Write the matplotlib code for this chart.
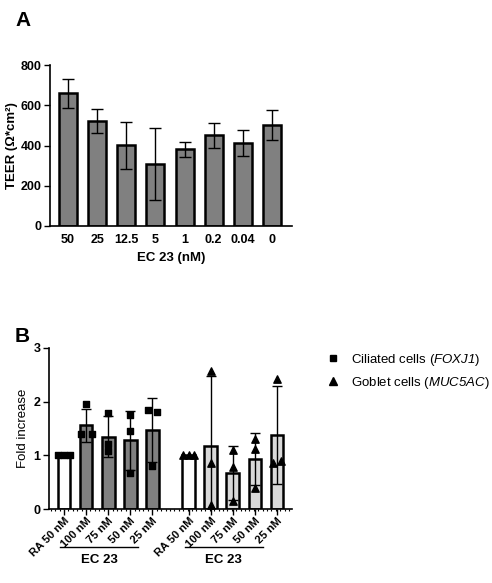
import numpy as np
import matplotlib
matplotlib.use("Agg")
import matplotlib.pyplot as plt
from matplotlib.ticker import MultipleLocator
from matplotlib.lines import Line2D

plt.rcParams['font.family'] = ['Liberation Sans', 'DejaVu Sans']
plt.rcParams['mathtext.fontset'] = 'custom'
plt.rcParams['mathtext.rm'] = 'Liberation Sans'
plt.rcParams['mathtext.sf'] = 'Liberation Sans:italic'  # italic incl. digits
plt.rcParams['mathtext.bf'] = 'Liberation Sans:bold'

# Panel A data
teer_labels = ['50', '25', '12.5', '5', '1', '0.2', '0.04', '0']
teer_mean = [660, 522, 402, 307, 382, 450, 412, 502]
teer_err = [72, 60, 117, 180, 37, 60, 65, 75]

# Panel B data
b_labels = ['RA 50 nM', '100 nM', '75 nM', '50 nM', '25 nM']
cil_mean = [1.0, 1.56, 1.35, 1.28, 1.47]
cil_err = [0.0, 0.31, 0.38, 0.55, 0.60]
cil_pts = [[1.0, 1.0, 1.0], [1.95, 1.40, 1.40], [1.78, 1.22, 1.08],
           [1.75, 1.45, 0.68], [1.84, 1.80, 0.80]]
gob_mean = [1.0, 1.18, 0.67, 0.93, 1.38]
gob_err = [0.0, 1.30, 0.50, 0.48, 0.92]
gob_pts = [[1.0, 1.0, 1.0], [2.58, 0.85, 0.07], [1.10, 0.78, 0.15],
           [1.30, 1.12, 0.40], [2.42, 0.85, 0.90]]

# horizontal spread of overlapping points
cil_off = [[-0.25, 0, 0.25], [0, -0.25, 0.25], [0, 0, 0], [0, 0, 0], [-0.2, 0.2, 0]]
gob_off = [[-0.25, 0, 0.25], [0, 0, 0], [0, 0, 0], [0, 0, 0], [0, -0.2, 0.2]]

TICK_FS = 9
LAB_FS = 9.5

fig = plt.figure(figsize=(4.92, 5.83), dpi=100)

# ---------- Panel A ----------
axA = fig.add_axes([50/492, 1-226/583, 242/492, 161/583])
xa = np.arange(len(teer_labels))
axA.bar(xa, teer_mean, width=0.62, color='#808080', edgecolor='black', linewidth=1.8, zorder=2)
axA.errorbar(xa, teer_mean, yerr=teer_err, fmt='none', ecolor='black',
             elinewidth=1.0, capsize=4.5, capthick=1.0, zorder=3)
axA.set_xlim(-0.62, 7.69)
axA.set_ylim(0, 800)
axA.set_yticks([0, 200, 400, 600, 800])
axA.set_xticks(xa)
axA.set_xticklabels(teer_labels)
axA.tick_params(axis='x', length=0, pad=6)
axA.tick_params(axis='y', length=4, width=1.0, pad=2)
axA.set_ylabel('TEER (Ω*cm²)', fontsize=LAB_FS, fontweight='bold', labelpad=2)
axA.set_xlabel('EC 23 (nM)', fontsize=LAB_FS, fontweight='bold', labelpad=4)
for lab in axA.get_xticklabels() + axA.get_yticklabels():
    lab.set_fontsize(TICK_FS)
    lab.set_fontweight('bold')
for s in ['top', 'right']:
    axA.spines[s].set_visible(False)
for s in ['left', 'bottom']:
    axA.spines[s].set_linewidth(1.2)
fig.text(15/492, 1-20/583, 'A', fontsize=15, fontweight='bold', va='center', ha='left')

# ---------- Panel B ----------
axB = fig.add_axes([49/492, 1-509/583, 243/492, 161/583])
x1 = np.arange(5)
x2 = x1 + 5.65
bw = 0.58
colsA = ['white'] + ['#808080'] * 4
colsB = ['white'] + ['#d9d9d9'] * 4
axB.bar(x1, cil_mean, width=bw, color=colsA, edgecolor='black', linewidth=1.8, zorder=2)
axB.bar(x2, gob_mean, width=bw, color=colsB, edgecolor='black', linewidth=1.8, zorder=2)
axB.errorbar(x1[1:], cil_mean[1:], yerr=cil_err[1:], fmt='none', ecolor='black',
             elinewidth=1.0, capsize=3.5, capthick=1.0, zorder=3)
axB.errorbar(x2[1:], gob_mean[1:], yerr=gob_err[1:], fmt='none', ecolor='black',
             elinewidth=1.0, capsize=3.5, capthick=1.0, zorder=3)
for i in range(5):
    axB.scatter(x1[i] + np.array(cil_off[i]), cil_pts[i], marker='s', s=24,
                color='black', zorder=4, clip_on=False)
    axB.scatter(x2[i] + np.array(gob_off[i]), gob_pts[i], marker='^', s=28,
                color='black', zorder=4, clip_on=False)
axB.set_xlim(-0.68, 10.33)
axB.set_ylim(0, 3)
axB.set_yticks([0, 1, 2, 3])
axB.set_xticks(np.concatenate([x1, x2]))
axB.set_xticklabels(b_labels + b_labels, rotation=45, ha='right', rotation_mode='anchor')
axB.xaxis.set_minor_locator(MultipleLocator(0.2))
axB.tick_params(axis='x', which='major', length=4, width=1.0, pad=1)
axB.tick_params(axis='x', which='minor', length=1.5, width=0.8)
axB.tick_params(axis='y', length=4, width=1.0, pad=2)
for lab in axB.get_yticklabels():
    lab.set_fontsize(TICK_FS)
    lab.set_fontweight('bold')
for lab in axB.get_xticklabels():
    lab.set_fontsize(8)
    lab.set_fontweight('bold')
axB.set_ylabel('Fold increase', fontsize=LAB_FS, labelpad=3)
for s in ['top', 'right']:
    axB.spines[s].set_visible(False)
for s in ['left', 'bottom']:
    axB.spines[s].set_linewidth(1.2)

trans = axB.get_xaxis_transform()
for xs in (x1, x2):
    axB.plot([xs[1] - 1.18, xs[4] - 0.65], [-0.236, -0.236], transform=trans,
             color='black', linewidth=1.0, clip_on=False)
    axB.text((xs[1] - 1.18 + xs[4] - 0.65) / 2, -0.315, 'EC 23', transform=trans,
             ha='center', va='center', fontsize=LAB_FS, fontweight='bold')
fig.text(15/492, 1-337/583, 'B', fontsize=15, fontweight='bold', va='center', ha='left')

handles = [Line2D([], [], marker='s', color='black', linestyle='none', markersize=5),
           Line2D([], [], marker='^', color='black', linestyle='none', markersize=5.5)]
fig.legend(handles, ['Ciliated cells ($\\mathsf{FOXJ1}$)', 'Goblet cells ($\\mathsf{MUC5AC}$)'],
           loc='upper left', bbox_to_anchor=(326/492, 1-352/583), frameon=False,
           fontsize=9.5, handletextpad=0.9, labelspacing=0.5, borderaxespad=0,
           borderpad=0, handlelength=1.0)

fig.savefig('out.png', dpi=100)
